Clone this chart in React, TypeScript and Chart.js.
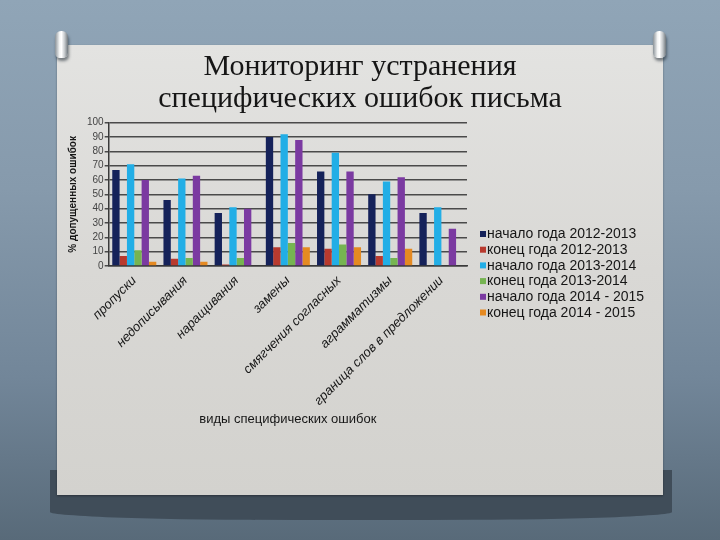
import React, { useEffect, useRef } from 'react';
import { Chart, registerables } from 'chart.js';

Chart.register(...registerables);

const titleLines = ['Мониторинг устранения', 'специфических ошибок письма'];
const categories = [
  'пропуски',
  'недописывания',
  'наращивания',
  'замены',
  'смягчения согласных',
  'аграмматизмы',
  'граница слов в предложении',
];
const seriesNames = [
  'начало года 2012-2013',
  'конец года 2012-2013',
  'начало года 2013-2014',
  'конец года 2013-2014',
  'начало года 2014 - 2015',
  'конец года 2014 - 2015',
];
const seriesColors = ['#15225a', '#b83a2e', '#22aee6', '#76b451', '#7b3aa1', '#e58a22'];
const start2012 = [67, 46, 37, 90, 66, 50, 37];
const end2012 = [7, 5, 1, 13, 12, 7, 0];
const start2013 = [71, 61, 41, 92, 79, 59, 41];
const end2013 = [11, 5.5, 5.5, 16, 15, 5.5, 0];
const start2014 = [60, 63, 40, 88, 66, 62, 26];
const end2014 = [3, 3, 0, 13, 13, 12, 0];
const seriesValues = [start2012, end2012, start2013, end2013, start2014, end2014];
const yMin = 0;
const yMax = 100;
const yStep = 10;
const yTitle = '% допущенных ошибок';
const xTitle = 'виды специфических ошибок';

// Legend drawn beside the plot (Chart.js caps a right legend's width, so it is drawn here)
const sideLegend = {
  id: 'sideLegend',
  afterDraw(chart: any) {
    const { ctx, chartArea } = chart;
    const boxX = chartArea.right + 13;
    const textX = boxX + 7;
    const firstY = 189;
    const rowH = 15.7;
    ctx.save();
    ctx.font = '14px "Liberation Sans", Arial, sans-serif';
    ctx.textBaseline = 'middle';
    ctx.textAlign = 'left';
    chart.data.datasets.forEach((ds: any, i: number) => {
      const y = firstY + i * rowH;
      ctx.fillStyle = ds.backgroundColor;
      ctx.fillRect(boxX, y - 3, 6, 6);
      ctx.fillStyle = '#161616';
      ctx.fillText(ds.label, textX, y + 0.5);
    });
    ctx.restore();
  },
};

export default function App() {
  const ref = useRef<HTMLCanvasElement>(null);

  useEffect(() => {
    if (!ref.current) return;
    const chart = new Chart(ref.current, {
      type: 'bar',
      data: {
        labels: categories,
        datasets: seriesNames.map((name, i) => ({
          label: name,
          data: seriesValues[i],
          backgroundColor: seriesColors[i],
          borderWidth: 0,
          categoryPercentage: 0.86,
          barPercentage: 1.0,
        })),
      },
      options: {
        responsive: false,
        animation: false,
        layout: { padding: { left: 9, right: 9, top: 0, bottom: 64 } },
        plugins: {
          title: {
            display: true,
            text: titleLines,
            color: '#161616',
            font: { family: 'Liberation Serif', size: 30, weight: 'normal', lineHeight: 32 / 30 },
            padding: { top: 6, bottom: 7.7 },
          },
          legend: { display: false },
          tooltip: { enabled: false },
        },
        scales: {
          x: {
            grid: { display: false, drawTicks: false },
            border: { display: true, color: '#3a3a3a', width: 1.5 },
            ticks: {
              minRotation: 45,
              maxRotation: 45,
              color: '#161616',
              padding: 7,
              font: { family: 'Liberation Sans', size: 13, style: 'italic' },
            },
            title: {
              display: true,
              text: xTitle,
              color: '#161616',
              font: { family: 'Liberation Sans', size: 13 },
              padding: { top: 4, bottom: 4 },
            },
            afterFit: (s: any) => {
              s.height = 165;
            },
          },
          y: {
            min: yMin,
            max: yMax,
            ticks: {
              stepSize: yStep,
              autoSkip: false,
              color: '#444',
              padding: 1,
              font: { family: 'Liberation Sans', size: 10 },
            },
            grid: { color: '#4a4a4a', lineWidth: 1.5, tickLength: 4, tickColor: '#4a4a4a' },
            border: { display: true, color: '#3a3a3a', width: 1.5 },
            title: {
              display: true,
              text: yTitle,
              color: '#161616',
              font: { family: 'Liberation Sans', size: 10, weight: 'bold' },
              padding: { top: 1, bottom: 7 },
            },
          },
          legendSpace: {
            type: 'linear',
            position: 'right',
            display: true,
            grid: { display: false, drawTicks: false },
            border: { display: false },
            ticks: { display: false },
            afterFit: (s: any) => {
              s.width = 187;
            },
          },
        },
      } as any,
      plugins: [sideLegend],
    });
    return () => chart.destroy();
  }, []);

  const ringStyle = (left: number): React.CSSProperties => ({
    position: 'absolute',
    left,
    top: 31,
    width: 13,
    height: 27,
    borderRadius: '6px 6px 5px 5px',
    background: 'linear-gradient(90deg, #8a9298 0%, #f4f5f5 35%, #ffffff 50%, #c2c6c9 75%, #6f777d 100%)',
    boxShadow: '1px 3px 3px rgba(30,40,50,0.55)',
  });

  return (
    <div
      style={{
        position: 'fixed',
        left: 0,
        top: 0,
        width: 720,
        height: 540,
        overflow: 'hidden',
        background: 'linear-gradient(180deg, #90a5b7 0%, #869aac 35%, #728699 70%, #586a79 100%)',
      }}
    >
      <div
        style={{
          position: 'absolute',
          left: 50,
          top: 470,
          width: 622,
          height: 50,
          background: '#404d59',
          borderRadius: '0 0 40% 40% / 0 0 8px 8px',
        }}
      />
      <div
        style={{
          position: 'absolute',
          left: 57,
          top: 45,
          width: 606,
          height: 450,
          background: 'linear-gradient(180deg, #e3e3e1 0%, #d9d8d5 50%, #d3d2ce 100%)',
          boxShadow: '0 1px 2px rgba(0,0,0,0.35)',
        }}
      />
      <div style={ringStyle(55)} />
      <div style={ringStyle(653)} />
      <canvas
        ref={ref}
        width={606}
        height={450}
        style={{ position: 'absolute', left: 57, top: 45, width: 606, height: 450 }}
      />
    </div>
  );
}
